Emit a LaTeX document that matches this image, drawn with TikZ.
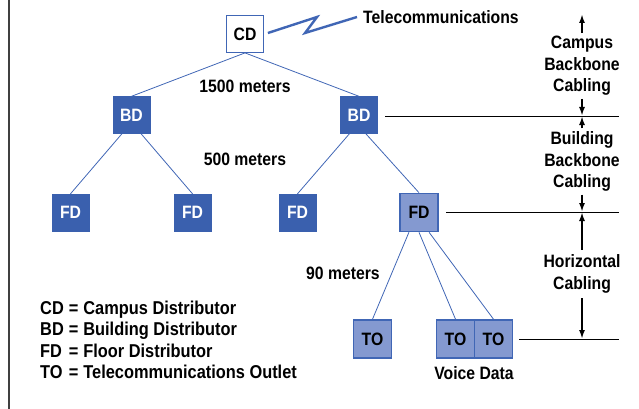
\documentclass[tikz,border=0pt]{standalone}
\usepackage{fontspec}
\setmainfont{Liberation Sans}[FakeStretch=0.88]
\usetikzlibrary{positioning,arrows.meta}
\definecolor{dkblue}{HTML}{3A60AE}
\definecolor{ltblue}{HTML}{8499D0}
\definecolor{lnblue}{HTML}{4066B5}
\begin{document}
\begin{tikzpicture}[x=1pt,y=-1pt]
	\tikzset{>=latex}
  \tikzset{
    txt/.style={font=\fontsize{17.9}{21.5}\selectfont\bfseries,align=center},
    dist/.style={txt,minimum size=37pt,inner sep=0pt,draw=dkblue,fill=dkblue,text=white},
    cdbox/.style={txt,minimum size=37pt,inner sep=0pt,draw=lnblue,line width=0.8pt,fill=white},
    litbox/.style={txt,minimum size=38pt,inner sep=0pt,draw=lnblue,line width=1.6pt,fill=ltblue},
    link/.style={lnblue,line width=0.8pt},
    level/.style={black,line width=0.9pt},
    span/.style={-{Latex[length=9pt,width=6pt]},line width=1.8pt}
  }
  \useasboundingbox (0,0) rectangle (639,409);
  \draw[line width=1.2pt,black!75] (9,0) -- (9,409);

  % tree
  \node[cdbox] (cd) at (245,34) {CD};
  \node[dist] (bd1) at (131.5,115) {BD};
  \node[dist] (bd2) at (359,115) {BD};
  \node[dist] (fd1) at (70.5,212.5) {FD};
  \node[dist] (fd2) at (192.5,212.5) {FD};
  \node[dist] (fd3) at (297.5,212.5) {FD};
  \node[litbox] (fd4) at (419,212.5) {FD};
  \node[litbox] (to1) at (372.5,339) {TO};
  \node[litbox] (to2) at (455.5,339) {TO};
  \node[litbox] (to3) at (493.5,339) {TO};

  \draw[link] (cd.south) -- (bd1.north);
  \draw[link] (cd.south) -- (bd2.north);
  \draw[link] (bd1.-117) -- (fd1.north);
  \draw[link] (bd1.-63) -- (fd2.north);
  \draw[link] (bd2.-117) -- (fd3.north);
  \draw[link] (bd2.-70) -- (fd4.north);
  \draw[link] (fd4.-117) -- (to1.north);
  \draw[link] (fd4.-90) -- (to2.north);
  \draw[link] (fd4.-63) -- (to3.north);

  % telecommunications zigzag
  \node[txt,anchor=west,inner sep=0pt] (tel) at (363,17) {Telecommunications};
  \draw[lnblue,line width=2.4pt] (cd.east) ++(4,-1) -- (317,17) -- (305,33) -- ([xshift=-6pt]tel.west);

  \node[txt] (m1500) at (245,86) {1500 meters};
  \node[txt] (m500) at (245,159) {500 meters};
  \node[txt] (m90) at (343,273) {90 meters};
  \node[txt] (vd) at (474,373) {Voice Data};

  % levels on the right
  \coordinate (l1a) at (385,116);  \coordinate (l1b) at (619,116);
  \coordinate (l2a) at (446,212);  \coordinate (l2b) at (619,212);
  \coordinate (l3a) at (519,339);  \coordinate (l3b) at (619,339);
  \draw[level] (l1a) -- (l1b);
  \draw[level] (l2a) -- (l2b);
  \draw[level] (l3a) -- (l3b);

  \coordinate (top) at (582,14);
  \coordinate (y1) at (582,116);
  \coordinate (y2) at (582,212);
  \coordinate (y3) at (582,339);
  \node[txt,inner sep=3pt] (campus) at (582,66) {Campus\\Backbone\\Cabling};
  \node[txt,inner sep=3pt] (bldg) at (582,161.5) {Building\\Backbone\\Cabling};
  \node[txt,inner sep=3pt] (horiz) at (582,274) {Horizontal\\Cabling};
  \draw[span] (campus) -- (top);
  \draw[span] (campus) -- (y1);
  \draw[span] (bldg) -- (y1);
  \draw[span] (bldg) -- (y2);
  \draw[span] (horiz.north) ++(0,-2) -- (y2);
  \draw[span] (horiz.south) ++(0,2) -- (y3);

  % legend
  \node[anchor=north west,inner sep=0pt,font=\fontsize{18.6}{21.5}\selectfont\bfseries] (key) at (40,299) {%
    \begin{tabular}{@{}l@{\hspace{5pt}}c@{\hspace{5pt}}l@{}}
      CD & = & Campus Distributor\\
      BD & = & Building Distributor\\
      FD & = & Floor Distributor\\
      TO & = & Telecommunications Outlet
    \end{tabular}};

\end{tikzpicture}
\end{document}
